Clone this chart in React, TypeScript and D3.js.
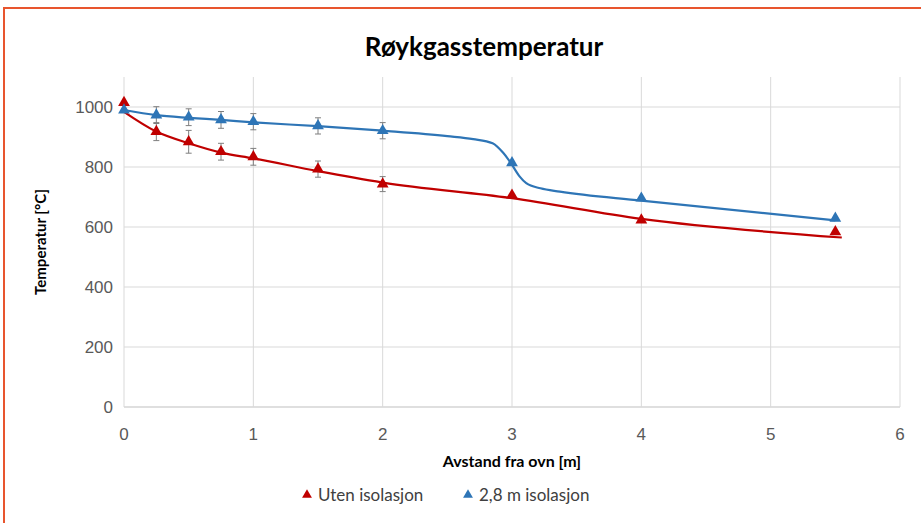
import * as d3 from "d3";

// Measured points (x = distance from stove in m, y = temperature in °C)
const distances = [0, 0.25, 0.5, 0.75, 1, 1.5, 2, 3, 4, 5.5];
const utenValues = [1015, 918, 884, 851, 834, 793, 743, 706, 623, 584];
const utenErrors = [0, 30, 38, 28, 28, 27, 25, 0, 0, 0];
const isoValues = [990, 973, 966, 957, 951, 937, 921, 814, 696, 629];
const isoErrors = [0, 28, 28, 28, 27, 27, 27, 0, 0, 0];

// Curves
const utenCurveX = [0, 0.25, 0.5, 0.75, 1, 1.5, 2, 3, 4, 5.55];
const utenCurveY = [984, 918, 879, 848, 829, 786, 748, 696, 627, 565];
const isoCurveX = [0, 0.25, 0.5, 0.75, 1, 1.5, 2, 2.5, 2.7, 2.85, 2.93, 2.99, 3.06, 3.11, 3.22, 3.37, 4, 5.5];
const isoCurveY = [990, 973, 964, 957, 949, 936, 921, 903, 893, 879, 848, 814, 768, 746, 729, 718, 688, 622];

const xTicks = [0, 1, 2, 3, 4, 5, 6];
const yTicks = [0, 200, 400, 600, 800, 1000];

const W = 921;
const H = 523;
const RED = "#c00000";
const BLUE = "#2e75b6";
const FONT = "Lato, 'Open Sans', sans-serif";

export default function App() {
  const x = d3.scaleLinear([0, 6], [124, 900]);
  const y = d3.scaleLinear([0, 1100], [407, 77]);

  const curve = d3
    .line<[number, number]>()
    .x((d) => x(d[0]))
    .y((d) => y(d[1]))
    .curve(d3.curveMonotoneX);

  const utenCurve = utenCurveX.map((v, i) => [v, utenCurveY[i]] as [number, number]);
  const isoCurve = isoCurveX.map((v, i) => [v, isoCurveY[i]] as [number, number]);
  const tri = d3.symbol(d3.symbolTriangle, 60)();
  const triSmall = d3.symbol(d3.symbolTriangle, 42)();

  const series = [
    { values: utenValues, errors: utenErrors, color: RED },
    { values: isoValues, errors: isoErrors, color: BLUE },
  ];

  return (
    <svg width={W} height={H} style={{ position: "absolute", left: 0, top: 0 }}>
      <rect x={0} y={0} width={W} height={H} fill="#fff" />
      <rect x={4} y={8} width={W + 20} height={H + 20} fill="none" stroke="#e8552e" strokeWidth={2} />

      <text x={484} y={56} textAnchor="middle" fontFamily={FONT} fontWeight="bold" fontSize={26} fill="#000">
        Røykgasstemperatur
      </text>

      {/* grid */}
      <g stroke="#d9d9d9" strokeWidth={1}>
        {yTicks.map((t) => (
          <line key={"h" + t} x1={x(0)} x2={x(6)} y1={y(t)} y2={y(t)} stroke={t === 0 ? "#bfbfbf" : "#d9d9d9"} />
        ))}
        {xTicks.map((t) => (
          <line key={"v" + t} x1={x(t)} x2={x(t)} y1={y(1100)} y2={y(0)} />
        ))}
      </g>

      {/* tick labels */}
      <g fontFamily="'Liberation Sans', Arial, sans-serif" fontSize={17} fill="#595959">
        {yTicks.map((t) => (
          <text key={"yl" + t} x={x(0) - 11} y={y(t) + 6} textAnchor="end">
            {t}
          </text>
        ))}
        {xTicks.map((t) => (
          <text key={"xl" + t} x={x(t)} y={y(0) + 33} textAnchor="middle">
            {t}
          </text>
        ))}
      </g>

      <text
        transform={`translate(46,${y(550)}) rotate(-90)`}
        textAnchor="middle"
        fontFamily={FONT}
        fontWeight="bold"
        fontSize={15}
        fill="#000"
      >
        Temperatur [°C]
      </text>
      <text x={512} y={467} textAnchor="middle" fontFamily={FONT} fontWeight="bold" fontSize={16} fill="#000">
        Avstand fra ovn [m]
      </text>

      {/* curves */}
      <path d={curve(utenCurve) ?? ""} fill="none" stroke={RED} strokeWidth={2.2} />
      <path d={curve(isoCurve) ?? ""} fill="none" stroke={BLUE} strokeWidth={2.2} />

      {/* error bars and markers */}
      {series.map((s, si) => (
        <g key={si}>
          {s.values.map((v, i) =>
            s.errors[i] > 0 ? (
              <g key={"e" + i} stroke="#7f7f7f" strokeWidth={1}>
                <line x1={x(distances[i])} x2={x(distances[i])} y1={y(v - s.errors[i])} y2={y(v + s.errors[i])} />
                <line x1={x(distances[i]) - 3} x2={x(distances[i]) + 3} y1={y(v - s.errors[i])} y2={y(v - s.errors[i])} />
                <line x1={x(distances[i]) - 3} x2={x(distances[i]) + 3} y1={y(v + s.errors[i])} y2={y(v + s.errors[i])} />
              </g>
            ) : null
          )}
          {s.values.map((v, i) => (
            <path key={"m" + i} d={tri ?? ""} transform={`translate(${x(distances[i])},${y(v)})`} fill={s.color} />
          ))}
        </g>
      ))}

      {/* legend */}
      <g fontFamily={FONT} fontSize={17} fill="#404040">
        <path d={triSmall ?? ""} transform="translate(307,495)" fill={RED} />
        <text x={318} y={501}>Uten isolasjon</text>
        <path d={triSmall ?? ""} transform="translate(468,495)" fill={BLUE} />
        <text x={479} y={501}>2,8 m isolasjon</text>
      </g>
    </svg>
  );
}
